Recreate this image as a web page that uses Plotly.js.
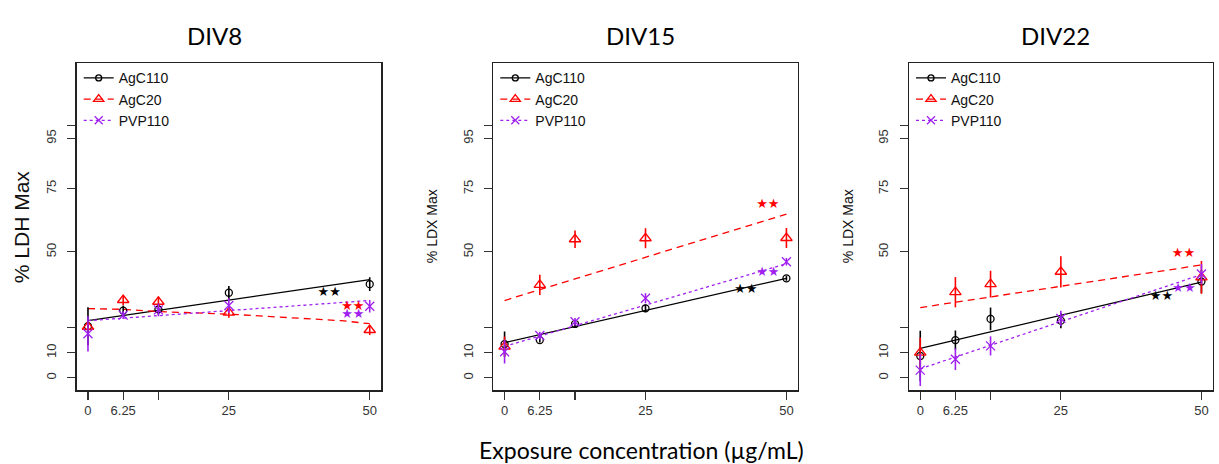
<!DOCTYPE html>
<html><head><meta charset="utf-8">
<script src="https://cdn.plot.ly/plotly-3.0.1.min.js"></script>
<style>html,body{margin:0;padding:0;background:#fff}#chart{width:1219px;height:464px}</style>
</head><body><div id="chart"></div>
<script>
// ---------- data ----------
const panels = ['DIV8', 'DIV15', 'DIV22'];
const seriesNames = ['AgC110', 'AgC20', 'PVP110'];
const conc = [0, 6.25, 12.5, 25, 50];
const concLabels = ['0', '6.25', '', '25', '50'];
const yTicks = [0, 10, 20, 50, 75, 95, 100];
const yTickLabels = ['0', '10', '', '50', '75', '95', ''];
const yTitles = ['% LDH Max', '% LDX Max', '% LDX Max'];
const xTitle = 'Exposure concentration (\u00b5g/mL)';

// DIV8
const div8_AgC110 = [20.5, 26.7, 27.2, 33.8, 37.2];
const div8_AgC110_sd = [7.5, 2.0, 2.0, 2.7, 2.7];
const div8_AgC20 = [20.3, 30.9, 30.2, 25.9, 19.0];
const div8_AgC20_sd = [1.5, 2.0, 2.0, 2.0, 2.0];
const div8_PVP110 = [17.5, 24.9, 27.0, 28.7, 28.4];
const div8_PVP110_sd = [7.0, 1.5, 2.5, 3.0, 2.5];
const div8_AgC110_fitX = [0, 50];
const div8_AgC110_fit = [22.7, 39.0];
const div8_AgC20_fitX = [0, 6.25, 12.5, 25, 45, 50];
const div8_AgC20_fit = [27.5, 27.2, 26.3, 25.3, 22.7, 21.5];
const div8_PVP110_fitX = [0, 50];
const div8_PVP110_fit = [22.7, 30.7];

// DIV15
const div15_AgC110 = [13.4, 15.0, 21.4, 27.6, 39.5];
const div15_AgC110_sd = [5.0, 1.0, 1.5, 1.5, 1.0];
const div15_AgC20 = [12.4, 36.9, 55.0, 55.4, 55.5];
const div15_AgC20_sd = [4.0, 4.0, 3.5, 4.0, 4.0];
const div15_PVP110 = [10.4, 16.8, 22.3, 31.6, 46.1];
const div15_PVP110_sd = [4.7, 1.5, 1.5, 2.0, 1.5];
const div15_AgC110_fitX = [0, 50];
const div15_AgC110_fit = [14.0, 39.5];
const div15_AgC20_fitX = [0, 50];
const div15_AgC20_fit = [30.7, 65.0];
const div15_PVP110_fitX = [0, 50];
const div15_PVP110_fit = [12.5, 45.3];

// DIV22
const div22_AgC110 = [8.7, 15.0, 23.4, 22.7, 38.2];
const div22_AgC110_sd = [10.0, 3.8, 4.5, 3.0, 4.6];
const div22_AgC20 = [10.0, 34.0, 37.2, 42.1, 39.9];
const div22_AgC20_sd = [6.0, 6.0, 5.3, 6.2, 6.5];
const div22_PVP110 = [3.1, 7.4, 12.7, 23.6, 41.2];
const div22_PVP110_sd = [6.3, 4.3, 3.8, 3.0, 4.0];
const div22_AgC110_fitX = [0, 50];
const div22_AgC110_fit = [11.7, 38.0];
const div22_AgC20_fitX = [0, 50];
const div22_AgC20_fit = [27.9, 44.8];
const div22_PVP110_fitX = [0, 50];
const div22_PVP110_fit = [3.6, 41.0];

// significance marks (AgC110, AgC20, PVP110)
const starText = '\u2605\u2605';
const div8_starX = [42.8, 47.0, 47.0];
const div8_starY = [33.6, 28.3, 25.0];
const div15_starX = [42.8, 46.7, 46.7];
const div15_starY = [34.9, 68.6, 41.7];
const div22_starX = [42.9, 46.8, 46.9];
const div22_starY = [32.2, 49.4, 35.5];

// ---------- assembly ----------
const data = {
  DIV8:  {vals: [div8_AgC110, div8_AgC20, div8_PVP110], sd: [div8_AgC110_sd, div8_AgC20_sd, div8_PVP110_sd],
          fitX: [div8_AgC110_fitX, div8_AgC20_fitX, div8_PVP110_fitX], fit: [div8_AgC110_fit, div8_AgC20_fit, div8_PVP110_fit],
          starX: div8_starX, starY: div8_starY},
  DIV15: {vals: [div15_AgC110, div15_AgC20, div15_PVP110], sd: [div15_AgC110_sd, div15_AgC20_sd, div15_PVP110_sd],
          fitX: [div15_AgC110_fitX, div15_AgC20_fitX, div15_PVP110_fitX], fit: [div15_AgC110_fit, div15_AgC20_fit, div15_PVP110_fit],
          starX: div15_starX, starY: div15_starY},
  DIV22: {vals: [div22_AgC110, div22_AgC20, div22_PVP110], sd: [div22_AgC110_sd, div22_AgC20_sd, div22_PVP110_sd],
          fitX: [div22_AgC110_fitX, div22_AgC20_fitX, div22_PVP110_fitX], fit: [div22_AgC110_fit, div22_AgC20_fit, div22_PVP110_fit],
          starX: div22_starX, starY: div22_starY}
};

const W = 1219, H = 464;
const colors = ['#000000', '#ff0000', '#a020f0'];
const symbols = ['circle-open', 'triangle-up-open', 'x-thin-open'];
const msizes = [7, 10, 9];
const dashes = ['solid', '7px,5px', '3px,3px'];
const boxes = [[76.7, 381], [493.3, 797.7], [909, 1212.7]];
const boxTop = 63.3, boxBot = 390;
const titleX = [214, 640, 1055];
const yTitleX = [21.5, 431.5, 847.5];
const yTitleSize = [21, 14, 14];
const px = v => v / W, py = v => 1 - v / H;

const traces = [];
const layout = {
  width: W, height: H,
  margin: {l: 0, r: 0, t: 0, b: 0},
  paper_bgcolor: '#fff', plot_bgcolor: '#fff',
  showlegend: true,
  annotations: [],
  font: {family: 'Liberation Sans, Arial, sans-serif', color: '#222'}
};

panels.forEach((p, i) => {
  const sfx = i === 0 ? '' : String(i + 1);
  const xa = 'x' + sfx, ya = 'y' + sfx;
  const lg = 'legend' + sfx;
  const d = data[p];
  seriesNames.forEach((s, k) => {
    traces.push({
      type: 'scatter', mode: 'lines', x: d.fitX[k], y: d.fit[k], xaxis: xa, yaxis: ya,
      line: {color: colors[k], width: 1.3, dash: dashes[k]}, showlegend: false, hoverinfo: 'skip'
    });
  });
  seriesNames.forEach((s, k) => {
    traces.push({
      type: 'scatter', mode: 'markers', x: conc, y: d.vals[k], xaxis: xa, yaxis: ya, name: s,
      marker: {symbol: symbols[k], size: msizes[k], color: colors[k], line: {color: colors[k], width: 1.3}},
      error_y: {type: 'data', array: d.sd[k], visible: true, width: 0, thickness: 1.6, color: colors[k]},
      showlegend: false
    });
  });
  seriesNames.forEach((s, k) => {
    traces.push({
      type: 'scatter', mode: 'text', x: [d.starX[k]], y: [d.starY[k]], xaxis: xa, yaxis: ya,
      text: [starText], textposition: 'middle center',
      textfont: {family: 'DejaVu Sans', size: 13, color: colors[k]}, showlegend: false, hoverinfo: 'skip'
    });
  });
  // legend keys (no plotted points)
  seriesNames.forEach((s, k) => {
    traces.push({
      type: 'scatter', mode: 'lines+markers', x: [null], y: [null], xaxis: xa, yaxis: ya, name: s, legend: lg,
      showlegend: true,
      line: {color: colors[k], width: 1.3, dash: dashes[k]},
      marker: {symbol: symbols[k], size: msizes[k] - 1, color: colors[k], line: {color: colors[k], width: 1.3}}
    });
  });

  const b = boxes[i];
  layout['xaxis' + sfx] = {
    domain: [px(b[0]), px(b[1])], anchor: ya, range: [-2, 52],
    tickmode: 'array', tickvals: conc, ticktext: concLabels,
    ticks: 'outside', ticklen: 8, tickwidth: 1.2, tickcolor: '#333',
    showline: true, mirror: true, linecolor: '#222', linewidth: 1.5,
    showgrid: false, zeroline: false, fixedrange: true,
    tickfont: {family: 'Liberation Sans, Arial, sans-serif', size: 13, color: '#333'}
  };
  layout['yaxis' + sfx] = {
    domain: [py(boxBot), py(boxTop)], anchor: xa, range: [-4.8, 124.8],
    tickmode: 'array', tickvals: yTicks, ticktext: yTickLabels, tickangle: -90,
    ticks: 'outside', ticklen: 8, tickwidth: 1.2, tickcolor: '#333', ticklabelstandoff: 6,
    showline: true, mirror: true, linecolor: '#222', linewidth: 1.5,
    showgrid: false, zeroline: false, fixedrange: true,
    tickfont: {family: 'Liberation Sans, Arial, sans-serif', size: 13, color: '#333'}
  };
  layout[lg] = {
    x: px(b[0] + 2), y: py(boxTop - 1), xanchor: 'left', yanchor: 'top',
    bgcolor: 'rgba(0,0,0,0)', borderwidth: 0, itemwidth: 30, tracegroupgap: 0,
    font: {family: 'Liberation Sans, Arial, sans-serif', size: 14, color: '#111'}
  };
  layout.annotations.push({
    xref: 'paper', yref: 'paper', x: px(titleX[i]), y: py(35), xanchor: 'center', yanchor: 'middle',
    text: p, showarrow: false, font: {family: 'Lato, Open Sans, sans-serif', size: 24, color: '#000'}
  });
  layout.annotations.push({
    xref: 'paper', yref: 'paper', x: px(yTitleX[i]), y: py((boxTop + boxBot) / 2), xanchor: 'center', yanchor: 'middle',
    text: yTitles[i], textangle: -90, showarrow: false,
    font: {family: 'Liberation Sans, Arial, sans-serif', size: yTitleSize[i], color: '#111'}
  });
});
layout.annotations.push({
  xref: 'paper', yref: 'paper', x: px(641), y: py(450), xanchor: 'center', yanchor: 'middle',
  text: xTitle, showarrow: false, font: {family: 'Lato, Open Sans, sans-serif', size: 23, color: '#000'}
});

Plotly.newPlot('chart', traces, layout, {displayModeBar: false, staticPlot: true});
</script></body></html>
